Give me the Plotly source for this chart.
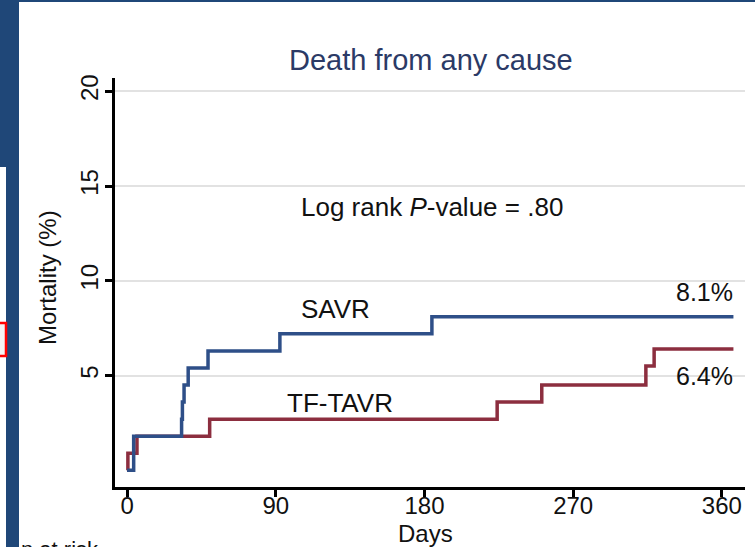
import plotly.graph_objects as go

# Kaplan-Meier cumulative mortality (%) by day
savr_days = [0, 4, 33, 33.5, 34.5, 37, 49, 92.5, 184.5, 367]
savr_mort = [0, 1.8, 2.7, 3.6, 4.5, 5.4, 6.3, 7.2, 8.1, 8.1]

tavr_days = [0, 0.5, 6, 50, 224, 251, 314, 319, 367]
tavr_mort = [0, 0.9, 1.8, 2.7, 3.6, 4.5, 5.5, 6.4, 6.4]

x_ticks = [0, 90, 180, 270, 360]
y_ticks = [5, 10, 15, 20]

title_text = "Death from any cause"
pvalue_text = "Log rank <i>P</i>-value = .80"
savr_final = "8.1%"
tavr_final = "6.4%"

W, H = 755, 547
L, R, T, B = 115, 10, 78, 60
PW, PH = W - L - R, H - T - B

def px(x):
    return (x - L) / PW

def py(y):
    return (H - B - y) / PH

FONT = "Liberation Sans, Arial, sans-serif"
FRAME = "#1f4778"
BLUE = "#2e4f88"
RED = "#8c2e3f"

fig = go.Figure()
fig.add_trace(go.Scatter(x=tavr_days, y=tavr_mort, mode="lines", line_shape="hv",
                         line=dict(color=RED, width=3.5), name="TF-TAVR", hoverinfo="skip"))
fig.add_trace(go.Scatter(x=savr_days, y=savr_mort, mode="lines", line_shape="hv",
                         line=dict(color=BLUE, width=3.5), name="SAVR", hoverinfo="skip"))

shapes = [
    # slide frame around the chart panel
    dict(type="rect", xref="paper", yref="paper", x0=px(-5), x1=px(W + 5), y0=py(2), y1=py(-5),
         fillcolor=FRAME, line_width=0, layer="above"),
    dict(type="rect", xref="paper", yref="paper", x0=px(-5), x1=px(19), y0=py(H + 5), y1=py(-5),
         fillcolor=FRAME, line_width=0, layer="above"),
    dict(type="rect", xref="paper", yref="paper", x0=px(-5), x1=px(6), y0=py(H + 5), y1=py(167),
         fillcolor="white", line_width=0, layer="above"),
    dict(type="rect", xref="paper", yref="paper", x0=px(-12), x1=px(6), y0=py(356), y1=py(323),
         fillcolor="#f4f4f4", line=dict(color="#ff0000", width=2.5), layer="above"),
]

annotations = [
    dict(text=title_text, xref="paper", yref="paper", x=px(431), y=py(60),
         xanchor="center", yanchor="middle", showarrow=False,
         font=dict(family=FONT, size=29, color="#2b3a66")),
    dict(text=pvalue_text, x=184.5, y=13.9, xanchor="center", yanchor="middle", showarrow=False,
         font=dict(family=FONT, size=26, color="#111")),
    dict(text="SAVR", x=126, y=8.5, xanchor="center", yanchor="middle", showarrow=False,
         font=dict(family=FONT, size=26, color="#111")),
    dict(text="TF-TAVR", x=129, y=3.56, xanchor="center", yanchor="middle", showarrow=False,
         font=dict(family=FONT, size=26, color="#111")),
    dict(text=savr_final, x=368, y=9.42, xanchor="right", yanchor="middle", showarrow=False,
         font=dict(family=FONT, size=25, color="#111")),
    dict(text=tavr_final, x=368, y=4.98, xanchor="right", yanchor="middle", showarrow=False,
         font=dict(family=FONT, size=25, color="#111")),
    dict(text="Days", xref="paper", yref="paper", x=px(425), y=py(533),
         xanchor="center", yanchor="middle", showarrow=False,
         font=dict(family=FONT, size=24, color="#111")),
    dict(text="Mortality (%)", xref="paper", yref="paper", x=px(47), y=py(278), textangle=-90,
         xanchor="center", yanchor="middle", showarrow=False,
         font=dict(family=FONT, size=24, color="#111")),
    dict(text="n at risk", xref="paper", yref="paper", x=px(19), y=py(535),
         xanchor="left", yanchor="top", showarrow=False,
         font=dict(family=FONT, size=22, color="#111")),
]

fig.update_layout(
    width=W, height=H,
    margin=dict(l=L, r=R, t=T, b=B, pad=0),
    paper_bgcolor="white", plot_bgcolor="white",
    showlegend=False,
    shapes=shapes, annotations=annotations,
    xaxis=dict(range=[-7.3, 374], tickvals=x_ticks, ticks="outside", ticklen=7, tickwidth=2.5,
               tickcolor="black", showline=True, linecolor="black", linewidth=3,
               showgrid=False, zeroline=False, ticklabelstandoff=-12,
               tickfont=dict(family=FONT, size=24, color="#111")),
    yaxis=dict(range=[-0.88, 20.7], tickvals=y_ticks, ticks="outside", ticklen=7, tickwidth=2.5,
               tickcolor="black", showline=True, linecolor="black", linewidth=3,
               showgrid=True, gridcolor="#e2e2e2", gridwidth=2, zeroline=False,
               tickangle=-90, ticklabelstandoff=-3,
               tickfont=dict(family=FONT, size=24, color="#111")),
)

fig.write_html("out.html")
